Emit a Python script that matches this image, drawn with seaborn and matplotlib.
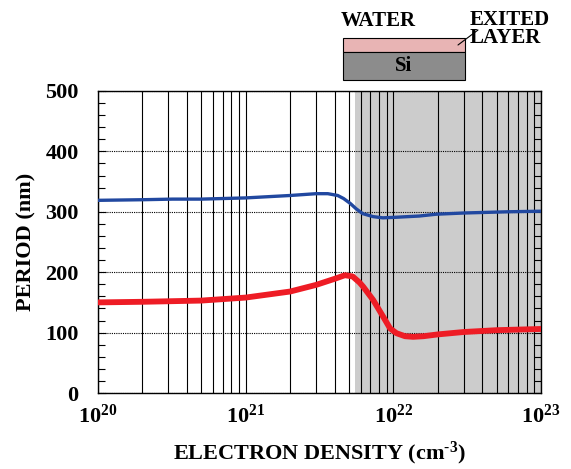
import numpy as np
import pandas as pd
import matplotlib
matplotlib.use("Agg")
import matplotlib.pyplot as plt
import seaborn as sns
from matplotlib.patches import Rectangle
from matplotlib.ticker import LogLocator, MultipleLocator, FixedLocator

# ---- data ----
blue_x = [1e20, 2e20, 3.2e20, 5e20, 1e21, 2e21, 3e21, 3.6e21, 4.2e21, 4.6e21, 5.1e21,
          5.6e21, 6.2e21, 7.3e21, 8.5e21, 1.05e22, 1.5e22, 1.95e22, 3e22, 5.9e22, 1e23]
blue_y = [319, 320, 321, 321, 323, 327, 330, 330, 327, 322, 314,
          305, 297, 292, 290, 291, 293, 296, 298, 300, 301]

red_x = [1e20, 2e20, 5e20, 1e21, 2e21, 3e21, 4e21, 4.7e21, 5.3e21, 5.9e21, 6.25e21,
         7.3e21, 8.55e21, 9.5e21, 1.05e22, 1.2e22, 1.36e22, 1.6e22, 2e22, 3e22, 5e22, 1e23]
red_y = [150, 151, 153, 158, 168, 179, 189, 195, 193, 183, 176,
         154, 126, 107, 99, 94, 93, 94, 97, 101, 104, 106]

x_ticks = [1e20, 1e21, 1e22, 1e23]
x_ticklabels = [r"$\mathbf{10^{20}}$", r"$\mathbf{10^{21}}$", r"$\mathbf{10^{22}}$", r"$\mathbf{10^{23}}$"]
y_ticks = [0, 100, 200, 300, 400, 500]
shade_start, shade_end = 5.5e21, 1e23

sns.set_theme(style="ticks")
plt.rcParams["font.family"] = ["Liberation Serif", "DejaVu Serif"]
plt.rcParams["font.weight"] = "bold"
plt.rcParams["mathtext.fontset"] = "custom"
plt.rcParams["mathtext.rm"] = "Liberation Serif:bold"
plt.rcParams["mathtext.bf"] = "Liberation Serif:bold"
plt.rcParams["mathtext.it"] = "Liberation Serif:bold"
plt.rcParams["axes.unicode_minus"] = False
for k in ["text.color", "axes.labelcolor", "xtick.color", "ytick.color", "axes.edgecolor"]:
    plt.rcParams[k] = "black"

FS = 16

fig = plt.figure(figsize=(5.71, 4.69), dpi=100)
ax = fig.add_axes([98/571, 1-393/469, (541-98)/571, (393-91)/469])

df_b = pd.DataFrame({"x": blue_x, "y": blue_y})
df_r = pd.DataFrame({"x": red_x, "y": red_y})

ax.axvspan(shade_start, shade_end, color="#cccccc", zorder=0, lw=0)

ax.set_xscale("log")
ax.set_xlim(1e20, 1e23)
ax.set_ylim(0, 500)

ax.xaxis.set_major_locator(FixedLocator(x_ticks))
ax.xaxis.set_minor_locator(LogLocator(base=10, subs=np.arange(2, 10)))
ax.set_xticks(x_ticks)
ax.set_xticklabels(x_ticklabels, fontsize=FS, color="black")
ax.grid(True, which="both", axis="x", color="black", lw=0.8, ls="-", zorder=1)
ax.yaxis.set_major_locator(FixedLocator(y_ticks))
ax.yaxis.set_minor_locator(MultipleLocator(20))
ax.grid(True, which="major", axis="y", color="black", lw=0.8, ls=(0, (1, 1)), zorder=1)
ax.set_axisbelow(False)

sns.lineplot(data=df_b, x="x", y="y", ax=ax, color="#2148a0", lw=2.4, zorder=3)
sns.lineplot(data=df_r, x="x", y="y", ax=ax, color="#ee1c25", lw=4.2, zorder=3)

ax.set_yticks(y_ticks)
ax.set_yticklabels([str(v) for v in y_ticks], fontsize=FS, fontweight="bold", color="black")
ax.tick_params(axis="y", which="both", direction="in", right=True, left=True, length=6, width=0.8,
               pad=14, colors="black")
ax.tick_params(axis="y", which="minor", length=5)
ax.tick_params(axis="x", which="both", direction="in", top=False, length=0, pad=8, colors="black")
for s in ax.spines.values():
    s.set_color("black")
    s.set_linewidth(1.0)

ax.set_xlabel(r"ELECTRON DENSITY (cm$^{\text{-3}}$)", fontsize=FS, fontweight="bold",
              labelpad=9, color="black")
ax.set_ylabel("PERIOD (nm)", fontsize=FS, fontweight="bold", labelpad=6, color="black")

# inset schematic
fig.patches.append(Rectangle((343/571, 1-52/469), 122/571, 14/469, transform=fig.transFigure,
                             facecolor="#e8b4b4", edgecolor="black", lw=0.8))
fig.patches.append(Rectangle((343/571, 1-80/469), 122/571, 28/469, transform=fig.transFigure,
                             facecolor="#8c8c8c", edgecolor="black", lw=0.8))
fig.text(404/571, 1-66/469, "Si", ha="center", va="center", fontsize=15, fontweight="bold", color="black")
fig.text(341/571, 1-21/469, "WATER", ha="left", va="center", fontsize=15, fontweight="bold", color="black")
fig.text(470/571, 1-29/469, "EXITED\nLAYER", ha="left", va="center", fontsize=15,
         fontweight="bold", linespacing=0.85, color="black")
fig.lines.append(plt.Line2D([458/571, 478/571], [1-45/469, 1-30/469], transform=fig.transFigure,
                            color="black", lw=0.8))

fig.savefig("out.png", dpi=100)
